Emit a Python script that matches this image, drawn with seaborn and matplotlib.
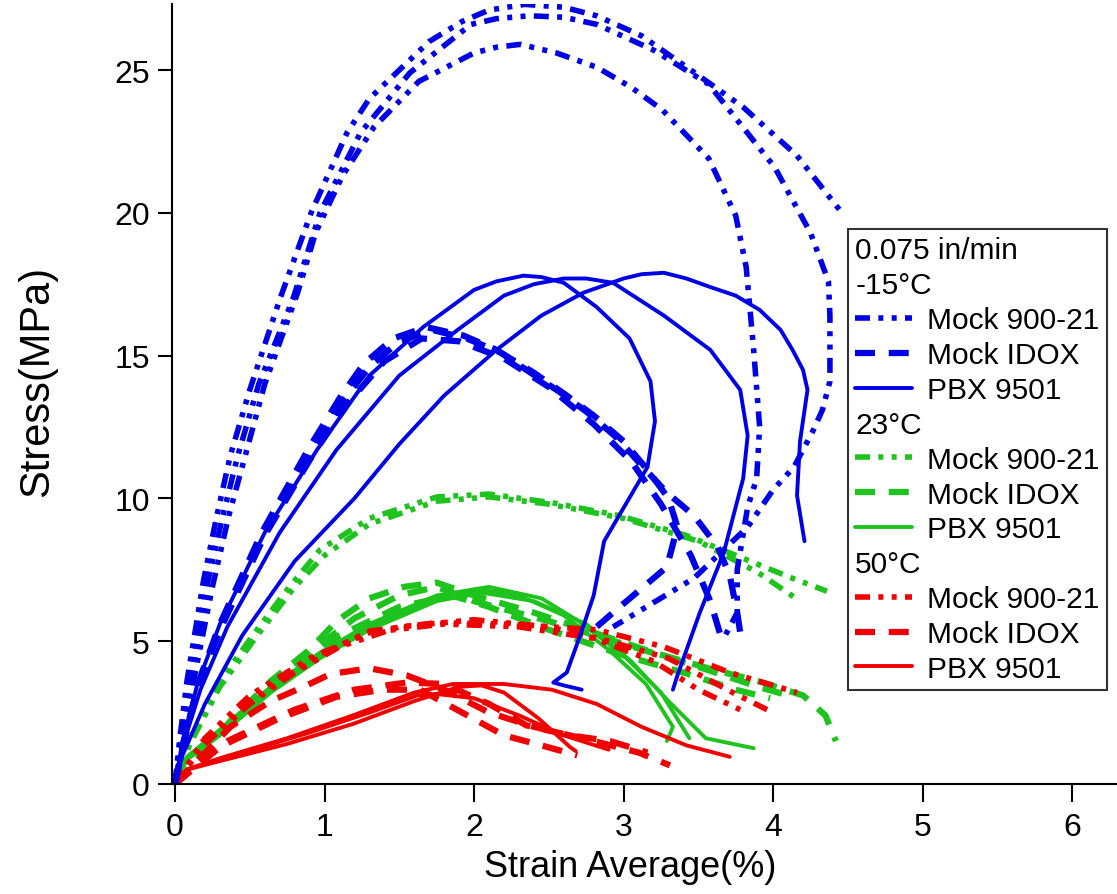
import numpy as np
import pandas as pd
import matplotlib
matplotlib.use("Agg")
import matplotlib.pyplot as plt
from matplotlib.lines import Line2D
import seaborn as sns

# -15°C, Mock 900-21 (three specimens)
cold_m900_1_x = [0, 0.03, 0.08, 0.19, 0.28, 0.37, 0.5, 0.7, 0.91, 1.15, 1.3, 1.5, 1.7, 1.92, 2.1, 2.34, 2.6, 2.82,
                 3.12, 3.45, 3.8, 4.16, 4.46]
cold_m900_1_y = [0, 1.5, 3.6, 7.1, 9.4, 11.5, 13.8, 16.96, 20.0, 22.8, 24.0, 25.0, 26.0, 26.7, 27.1, 27.3, 27.2, 26.9,
                 26.2, 25.0, 23.7, 22.0, 20.0]
cold_m900_2_x = [0, 0.04, 0.1, 0.22, 0.32, 0.42, 0.56, 0.79, 0.97, 1.24, 1.57, 1.98, 2.15, 2.37, 2.6, 2.82, 3.2, 3.57,
                 4.01, 4.25, 4.37, 4.38, 4.38, 4.33, 4.27, 4.14, 4.0, 3.83, 3.47, 2.93]
cold_m900_2_y = [0, 1.5, 3.6, 7.1, 9.4, 11.5, 14.0, 17.0, 20.0, 22.8, 24.9, 26.6, 26.8, 26.9, 26.85, 26.6, 25.7, 24.5,
                 21.6, 19.3, 17.6, 16.4, 14.1, 13.1, 12.4, 11.1, 10.3, 9.0, 7.2, 5.5]
cold_m900_3_x = [0, 0.05, 0.12, 0.25, 0.36, 0.47, 0.6, 0.82, 0.94, 1.12, 1.33, 1.63, 2.0, 2.15, 2.31, 2.55, 2.82,
                 3.05, 3.26, 3.57, 3.75, 3.82, 3.87, 3.91, 3.89, 3.83, 3.76, 3.76, 3.66]
cold_m900_3_y = [0, 1.5, 3.5, 6.9, 9.4, 11.5, 14.0, 17.2, 19.3, 21.3, 23.0, 24.6, 25.6, 25.8, 25.9, 25.6, 25.1,
                 24.4, 23.6, 21.9, 19.9, 18.1, 15.2, 12.5, 10.7, 9.7, 7.5, 6.0, 5.0]

# -15°C, Mock IDOX
cold_idox_1_x = [0, 0.06, 0.16, 0.3, 0.58, 0.9, 1.1, 1.26, 1.46, 1.68, 1.93, 2.15, 2.35, 2.58, 2.76, 2.96, 3.13, 3.29,
                 3.47, 3.63, 3.71, 3.76, 3.78]
cold_idox_1_y = [0, 1.5, 3.6, 5.6, 8.8, 11.8, 13.5, 14.7, 15.6, 16.0, 15.7, 15.2, 14.5, 13.7, 13.0, 12.1, 11.1, 10.2,
                 9.4, 8.3, 7.3, 6.0, 5.3]
cold_idox_2_x = [0, 0.06, 0.16, 0.31, 0.6, 0.92, 1.12, 1.3, 1.5, 1.72, 1.95, 2.18, 2.4, 2.62, 2.8, 3.0, 3.16, 3.3,
                 3.36, 3.29, 3.11, 2.93, 2.82]
cold_idox_2_y = [0, 1.5, 3.6, 5.6, 8.8, 11.7, 13.4, 14.6, 15.5, 15.9, 15.6, 15.1, 14.4, 13.6, 12.9, 12.0, 11.0, 10.0,
                 9.0, 7.6, 6.8, 6.0, 5.5]
cold_idox_3_x = [0, 0.06, 0.16, 0.31, 0.6, 0.93, 1.15, 1.4, 1.65, 1.9, 2.2, 2.5, 2.8, 3.05, 3.25, 3.45, 3.58, 3.66]
cold_idox_3_y = [0, 1.5, 3.5, 5.5, 8.7, 11.6, 13.3, 14.8, 15.6, 15.5, 14.9, 13.9, 12.6, 11.3, 9.8, 8.0, 6.4, 5.0]

# -15°C, PBX 9501
cold_pbx_1_x = [0, 0.05, 0.15, 0.3, 0.6, 0.95, 1.3, 1.66, 2.0, 2.15, 2.33, 2.45, 2.6, 2.82, 3.04, 3.18, 3.21, 3.16,
                2.87, 2.8, 2.71, 2.62, 2.53, 2.6, 2.72]
cold_pbx_1_y = [0, 1.5, 3.5, 5.6, 8.8, 11.7, 14.3, 16.0, 17.3, 17.6, 17.8, 17.75, 17.55, 16.7, 15.6, 14.1, 12.7, 11.1,
                8.5, 6.6, 5.2, 3.9, 3.55, 3.45, 3.3]
cold_pbx_2_x = [0, 0.05, 0.17, 0.35, 0.7, 1.08, 1.5, 1.89, 2.2, 2.4, 2.6, 2.75, 2.93, 3.27, 3.58, 3.78, 3.83, 3.8,
                3.67, 3.51, 3.36, 3.33]
cold_pbx_2_y = [0, 1.3, 3.3, 5.5, 8.8, 11.7, 14.3, 15.9, 17.1, 17.5, 17.7, 17.7, 17.55, 16.4, 15.2, 13.8, 12.2, 10.7,
                8.1, 6.0, 3.8, 3.3]
cold_pbx_3_x = [0, 0.05, 0.2, 0.45, 0.8, 1.2, 1.5, 1.8, 2.15, 2.45, 2.73, 3.0, 3.12, 3.27, 3.42, 3.58, 3.75, 3.91,
                4.05, 4.13, 4.2, 4.23, 4.18, 4.16, 4.21]
cold_pbx_3_y = [0, 1.0, 2.8, 5.2, 7.8, 10.0, 11.9, 13.6, 15.2, 16.4, 17.2, 17.7, 17.85, 17.9, 17.7, 17.4, 17.1, 16.6,
                15.9, 15.2, 14.5, 13.8, 12.0, 10.1, 8.5]

# 23°C
room_m900_1_x = [0, 0.1, 0.3, 0.52, 0.75, 0.97, 1.3, 1.75, 2.1, 2.52, 2.97, 3.42, 3.8, 4.13, 4.36]
room_m900_1_y = [0, 1.5, 3.6, 5.2, 6.8, 8.2, 9.3, 10.05, 10.15, 9.85, 9.4, 8.7, 7.9, 7.2, 6.75]
room_m900_2_x = [0, 0.1, 0.3, 0.55, 0.8, 1.0, 1.3, 1.75, 2.1, 2.5, 3.0, 3.5, 3.9, 4.18]
room_m900_2_y = [0, 1.4, 3.4, 5.2, 6.9, 8.0, 9.1, 9.9, 10.05, 9.8, 9.3, 8.5, 7.4, 6.4]
room_idox_1_x = [0, 0.37, 0.64, 0.9, 1.08, 1.3, 1.53, 1.75, 2.0, 2.4, 2.8, 3.2, 3.6, 3.9, 4.2, 4.35, 4.42]
room_idox_1_y = [0, 2.2, 3.6, 4.7, 5.7, 6.5, 6.9, 7.05, 6.6, 6.0, 5.3, 4.6, 4.0, 3.6, 3.1, 2.4, 1.5]
room_idox_2_x = [0, 0.35, 0.6, 0.9, 1.2, 1.5, 1.75, 2.0, 2.5, 3.0, 3.5, 3.9, 4.1]
room_idox_2_y = [0, 2.0, 3.3, 4.6, 5.8, 6.6, 6.9, 6.4, 5.7, 4.9, 4.1, 3.4, 3.1]
room_idox_3_x = [0, 0.35, 0.7, 1.1, 1.5, 1.85, 2.1, 2.5, 3.0, 3.4, 3.75, 3.98]
room_idox_3_y = [0, 1.9, 3.6, 5.2, 6.2, 6.6, 6.2, 5.4, 4.5, 3.9, 3.3, 3.0]
room_pbx_1_x = [0, 0.08, 0.3, 0.64, 0.97, 1.3, 1.75, 2.05, 2.3, 2.6, 2.9, 3.15, 3.33, 3.29]
room_pbx_1_y = [0, 0.9, 1.8, 3.3, 4.5, 5.5, 6.5, 6.8, 6.6, 5.9, 4.7, 3.5, 2.0, 1.5]
room_pbx_2_x = [0, 0.08, 0.3, 0.64, 0.97, 1.3, 1.75, 2.1, 2.45, 2.7, 3.0, 3.25, 3.44]
room_pbx_2_y = [0, 0.95, 1.9, 3.4, 4.6, 5.6, 6.6, 6.9, 6.5, 5.7, 4.5, 3.2, 1.6]
room_pbx_3_x = [0, 0.08, 0.3, 0.64, 0.97, 1.3, 1.75, 2.05, 2.4, 2.75, 3.05, 3.3, 3.55, 3.87]
room_pbx_3_y = [0, 0.85, 1.7, 3.2, 4.4, 5.4, 6.4, 6.7, 6.4, 5.6, 4.3, 2.9, 1.6, 1.25]

# 50°C
hot_m900_1_x = [0, 0.19, 0.52, 0.75, 0.97, 1.3, 1.75, 2.2, 2.82, 3.27, 3.71, 4.16]
hot_m900_1_y = [0, 1.5, 3.0, 3.8, 4.5, 5.35, 5.65, 5.6, 5.4, 4.8, 3.9, 3.2]
hot_m900_2_x = [0, 0.2, 0.5, 0.8, 1.1, 1.5, 2.0, 2.5, 2.9, 3.3, 3.73, 3.96]
hot_m900_2_y = [0, 1.4, 2.8, 3.9, 4.8, 5.5, 5.75, 5.5, 5.0, 4.4, 3.2, 2.6]
hot_m900_3_x = [0, 0.2, 0.5, 0.9, 1.3, 1.8, 2.3, 2.8, 3.2, 3.5, 3.78]
hot_m900_3_y = [0, 1.6, 3.1, 4.4, 5.3, 5.6, 5.5, 5.1, 4.3, 3.3, 2.6]
hot_idox_1_x = [0, 0.37, 0.64, 0.86, 1.04, 1.3, 1.55, 1.8, 2.1, 2.4, 2.84, 3.1, 3.31]
hot_idox_1_y = [0, 2.0, 2.9, 3.4, 3.85, 4.05, 3.8, 3.3, 2.5, 2.0, 1.45, 1.1, 0.65]
hot_idox_2_x = [0, 0.3, 0.7, 1.08, 1.39, 1.64, 1.92, 2.2, 2.45, 2.69]
hot_idox_2_y = [0, 1.3, 2.3, 3.05, 3.3, 3.3, 2.5, 1.7, 1.35, 1.0]
hot_idox_3_x = [0, 0.35, 0.8, 1.2, 1.55, 1.8, 2.1, 2.35, 2.64, 2.91, 3.16]
hot_idox_3_y = [0, 1.5, 2.6, 3.3, 3.55, 3.5, 2.8, 2.05, 1.7, 1.5, 1.1]
hot_pbx_1_x = [0, 0.08, 0.3, 0.75, 1.19, 1.6, 1.86, 2.2, 2.52, 2.82, 3.12, 3.42, 3.71]
hot_pbx_1_y = [0, 0.5, 0.9, 1.6, 2.4, 3.2, 3.5, 3.5, 3.3, 2.8, 2.0, 1.35, 0.95]
hot_pbx_2_x = [0, 0.08, 0.3, 0.75, 1.19, 1.6, 1.9, 2.05, 2.2, 2.43, 2.64, 2.68]
hot_pbx_2_y = [0, 0.5, 0.8, 1.4, 2.1, 2.9, 3.4, 3.45, 3.2, 2.3, 1.3, 1.15]
hot_pbx_3_x = [0, 0.1, 0.4, 0.9, 1.3, 1.62, 1.75, 2.0, 2.3, 2.6, 2.9]
hot_pbx_3_y = [0, 0.55, 1.0, 1.8, 2.5, 3.1, 3.15, 3.0, 2.4, 1.7, 1.2]

temps = ["-15°C", "23°C", "50°C"]
materials = ["Mock 900-21", "Mock IDOX", "PBX 9501"]
colors = {"-15°C": "#0000e6", "23°C": "#1ec31e", "50°C": "#f00000"}

curves = [
    ("-15°C", "Mock 900-21", cold_m900_1_x, cold_m900_1_y),
    ("-15°C", "Mock 900-21", cold_m900_2_x, cold_m900_2_y),
    ("-15°C", "Mock 900-21", cold_m900_3_x, cold_m900_3_y),
    ("-15°C", "Mock IDOX", cold_idox_1_x, cold_idox_1_y),
    ("-15°C", "Mock IDOX", cold_idox_2_x, cold_idox_2_y),
    ("-15°C", "Mock IDOX", cold_idox_3_x, cold_idox_3_y),
    ("-15°C", "PBX 9501", cold_pbx_1_x, cold_pbx_1_y),
    ("-15°C", "PBX 9501", cold_pbx_2_x, cold_pbx_2_y),
    ("-15°C", "PBX 9501", cold_pbx_3_x, cold_pbx_3_y),
    ("23°C", "Mock 900-21", room_m900_1_x, room_m900_1_y),
    ("23°C", "Mock 900-21", room_m900_2_x, room_m900_2_y),
    ("23°C", "Mock IDOX", room_idox_1_x, room_idox_1_y),
    ("23°C", "Mock IDOX", room_idox_2_x, room_idox_2_y),
    ("23°C", "Mock IDOX", room_idox_3_x, room_idox_3_y),
    ("23°C", "PBX 9501", room_pbx_1_x, room_pbx_1_y),
    ("23°C", "PBX 9501", room_pbx_2_x, room_pbx_2_y),
    ("23°C", "PBX 9501", room_pbx_3_x, room_pbx_3_y),
    ("50°C", "Mock 900-21", hot_m900_1_x, hot_m900_1_y),
    ("50°C", "Mock 900-21", hot_m900_2_x, hot_m900_2_y),
    ("50°C", "Mock 900-21", hot_m900_3_x, hot_m900_3_y),
    ("50°C", "Mock IDOX", hot_idox_1_x, hot_idox_1_y),
    ("50°C", "Mock IDOX", hot_idox_2_x, hot_idox_2_y),
    ("50°C", "Mock IDOX", hot_idox_3_x, hot_idox_3_y),
    ("50°C", "PBX 9501", hot_pbx_1_x, hot_pbx_1_y),
    ("50°C", "PBX 9501", hot_pbx_2_x, hot_pbx_2_y),
    ("50°C", "PBX 9501", hot_pbx_3_x, hot_pbx_3_y),
]

rows = []
for i, (t, m, xs, ys) in enumerate(curves):
    for k, (a, b) in enumerate(zip(xs, ys)):
        rows.append({"temp": t, "material": m, "specimen": i, "order": k, "strain": a, "stress": b})
df = pd.DataFrame(rows)

# line looks per material (dash patterns in units of linewidth)
line_styles = {
    "Mock 900-21": dict(lw=4.0, ls=(0, (2.7, 1.5, 0.9, 1.5, 0.9, 1.5))),
    "Mock IDOX": dict(lw=4.5, ls=(0, (3.2, 2.2))),
    "PBX 9501": dict(lw=2.8, ls="-"),
}

sns.set_style("ticks")
plt.rcParams["font.family"] = ["Liberation Sans", "DejaVu Sans"]

fig = plt.figure(figsize=(11.17, 8.95), dpi=100)
ax = fig.add_axes([0.154, 0.123, 0.846, 0.871])

# draw green first, then red, then blue on top
for t in ["23°C", "50°C", "-15°C"]:
    for m in materials:
        sub = df[(df["temp"] == t) & (df["material"] == m)]
        sns.lineplot(data=sub, x="strain", y="stress", units="specimen", estimator=None, sort=False,
                     color=colors[t], linewidth=line_styles[m]["lw"], linestyle=line_styles[m]["ls"],
                     legend=False, ax=ax)

ax.set_xlim(-0.02, 6.3)
ax.set_ylim(0, 27.3)
ax.set_xticks([0, 1, 2, 3, 4, 5, 6])
ax.set_yticks([0, 5, 10, 15, 20, 25])
ax.tick_params(axis="x", length=13, width=1.5, pad=7, labelsize=23, color="black", labelcolor="black")
ax.tick_params(axis="y", length=10, width=1.5, pad=6, labelsize=23, color="black", labelcolor="black")
for s in ["top", "right"]:
    ax.spines[s].set_visible(False)
for s in ["left", "bottom"]:
    ax.spines[s].set_linewidth(1.5)
    ax.spines[s].set_color("black")
ax.set_xlabel("Strain Average(%)", fontsize=26, color="black")
ax.set_ylabel("Stress(MPa)", fontsize=30, color="black")
ax.xaxis.set_label_coords(0.485, -0.083)
ax.yaxis.set_label_coords(-0.122, 0.517)

# legend: grouped by temperature with header rows
handles, labels, headers = [], [], []
for t in temps:
    handles.append(Line2D([], [], color="none"))
    labels.append(t)
    headers.append(t)
    for m in materials:
        handles.append(Line2D([], [], color=colors[t], lw=line_styles[m]["lw"], ls=line_styles[m]["ls"]))
        labels.append(m)

fs = 21.5
hl, htp = 1.9, 0.5
leg = ax.legend(handles, labels, title="0.075 in/min", alignment="left", loc="upper left",
                bbox_to_anchor=(0.759, 0.743), bbox_transform=fig.transFigure,
                fontsize=fs, title_fontsize=fs, handlelength=hl, handletextpad=htp,
                labelspacing=0.23, borderpad=0.25, borderaxespad=0, fancybox=False, frameon=True)
leg.get_frame().set_edgecolor("black")
leg.get_frame().set_linewidth(1.5)
for txt in leg.get_texts() + [leg.get_title()]:
    txt.set_color("black")
shift = (hl + htp) * fs * fig.dpi / 72.0
for txt in leg.get_texts():
    if txt.get_text() in headers:
        txt.set_x(-shift)

fig.savefig("out.png", dpi=100, facecolor="white")
